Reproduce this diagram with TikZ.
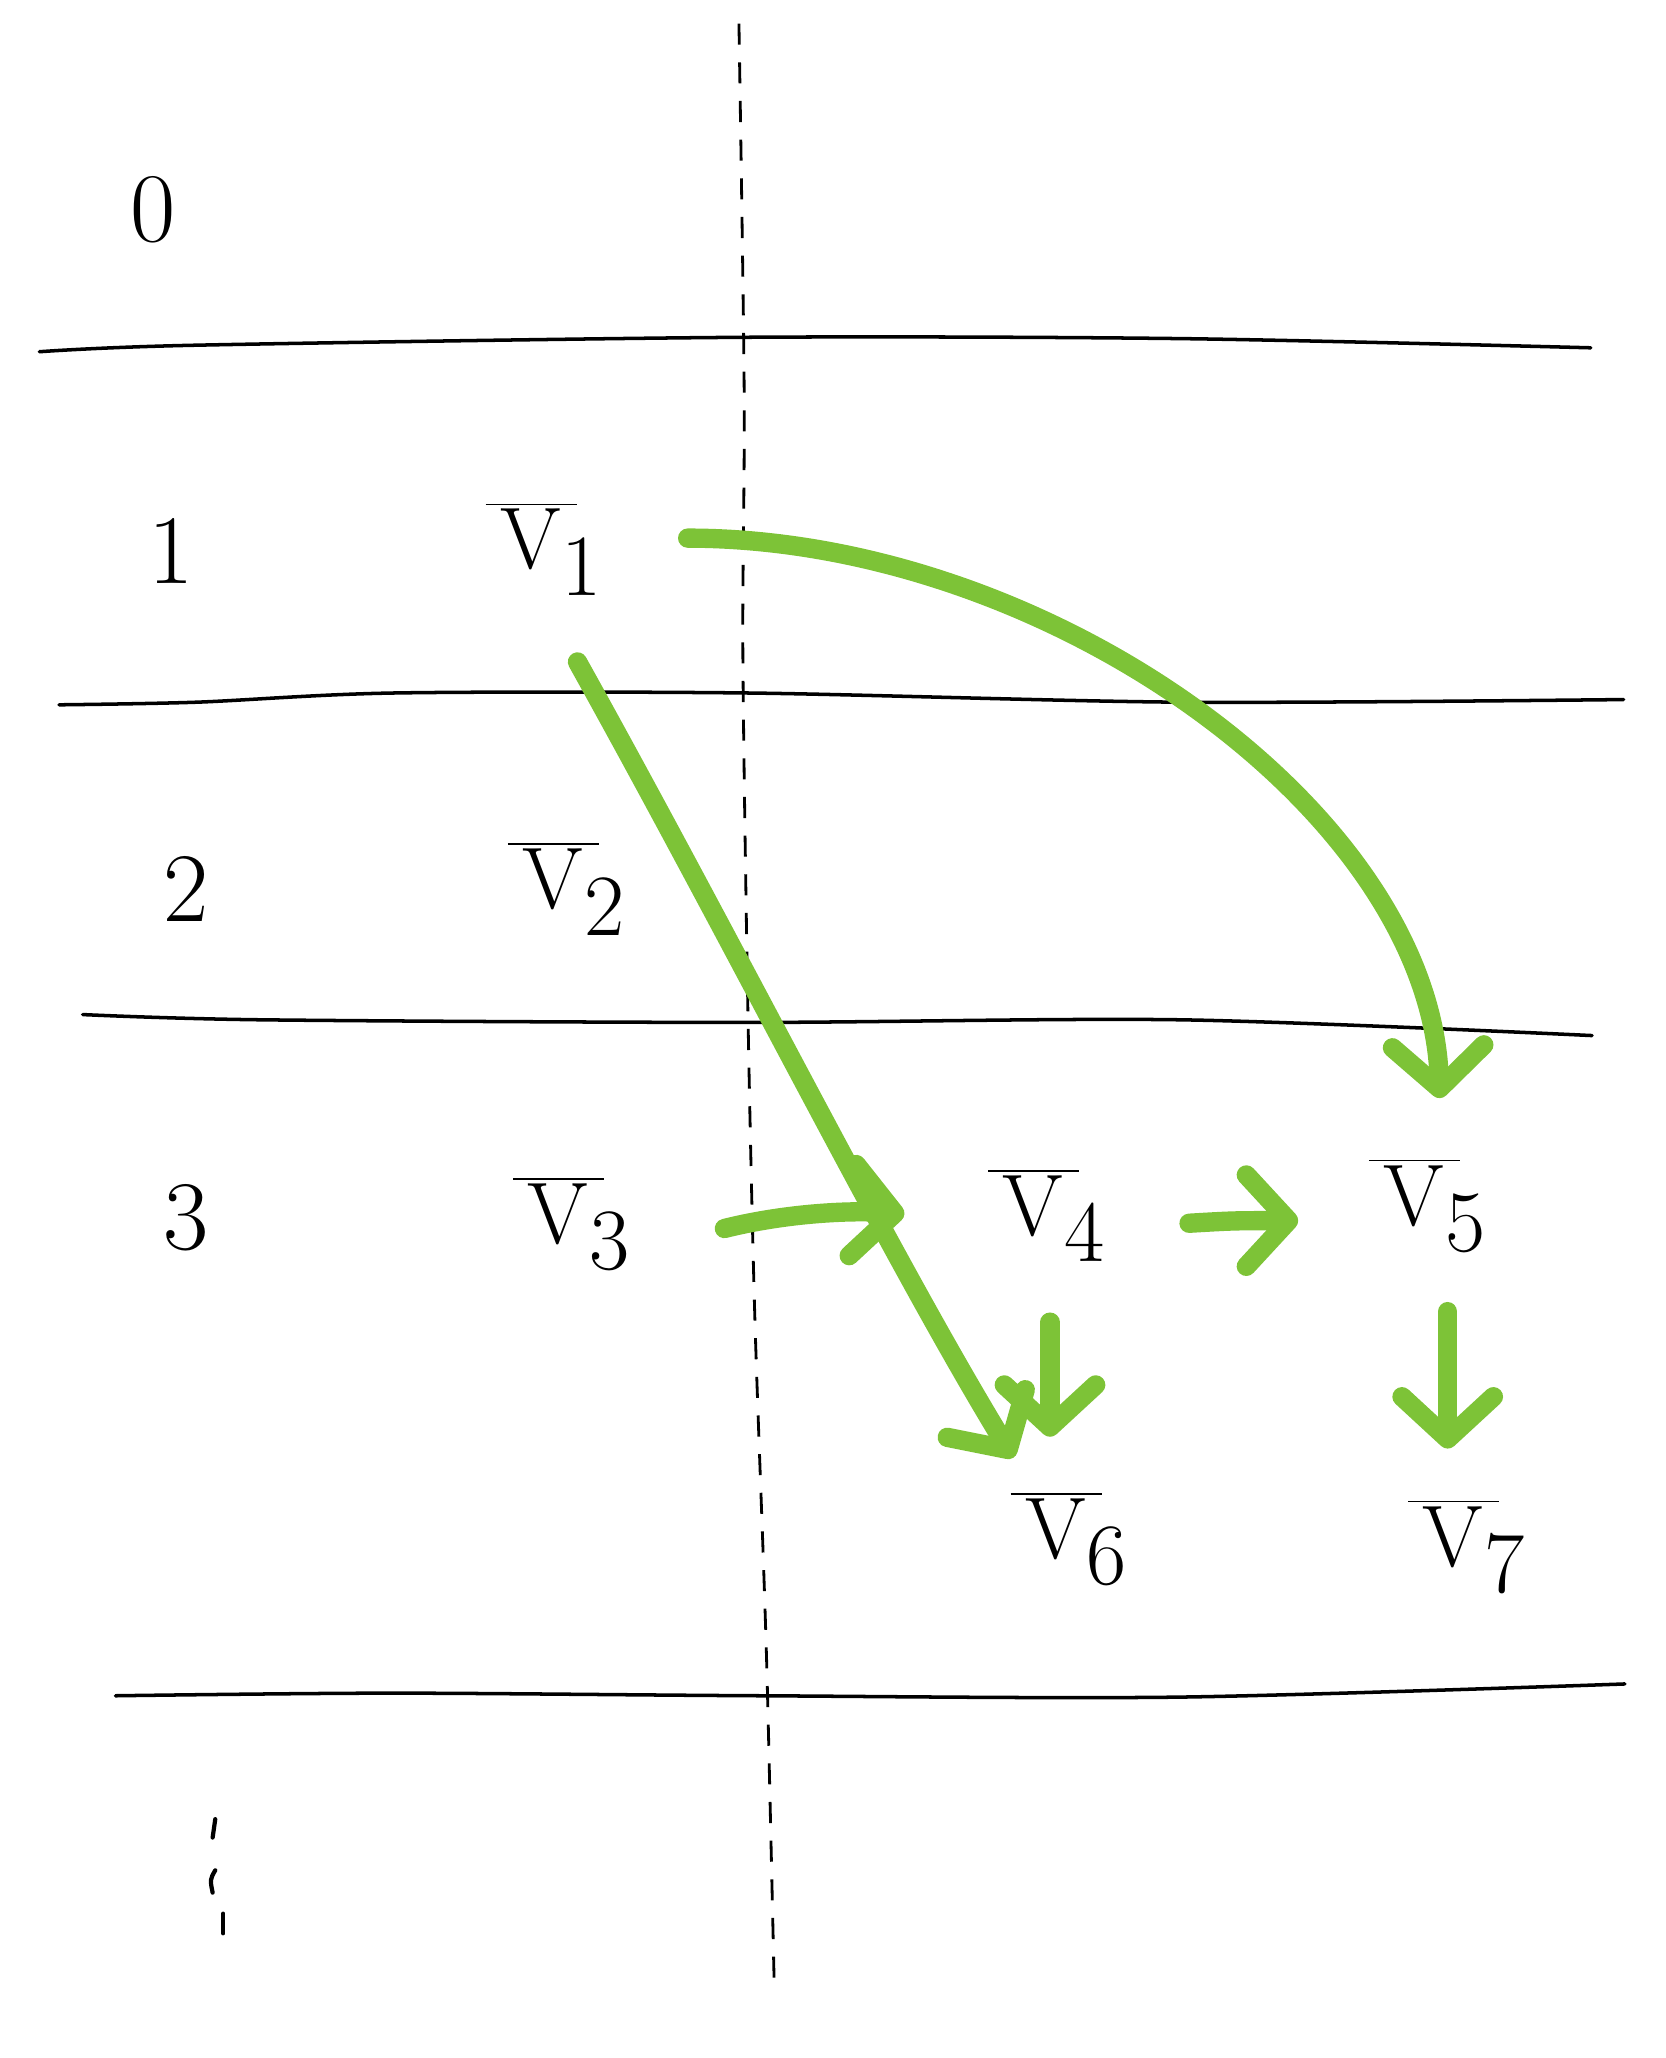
\documentclass[tikz,border=0pt]{standalone}
\usetikzlibrary{arrows.meta,calc}
\definecolor{grn}{RGB}{125,195,55}
\begin{document}
\begin{tikzpicture}[x=0.01312cm,y=-0.01312cm,
  rule/.style={line width=1pt,line cap=round,line join=round},
  sep/.style={line width=0.8pt,dash pattern=on 6pt off 5pt},
  vert/.style={inner sep=2pt,font=\fontsize{34}{40}\selectfont},
  lvl/.style={inner sep=0pt,font=\fontsize{28}{32}\selectfont},
  flow/.style={draw=grn,line width=5.5pt,line cap=round,line join=round,
    -{Straight Barb[length=12pt,width=26pt,round]}}]
\useasboundingbox (0,0) rectangle (1269,1568);
% separating lines
\draw[rule] plot[smooth] coordinates {(30,268) (150,263) (565,257) (900,258) (1212,265)};
\draw[rule] plot[smooth] coordinates {(45,537) (150,535) (300,528) (570,528) (900,535) (1237,533)};
\draw[rule] plot[smooth] coordinates {(63,773) (200,777) (570,779) (900,777) (1213,789)};
\draw[rule] plot[smooth] coordinates {(88,1292) (300,1290) (580,1292) (900,1293) (1238,1283)};
\draw[sep] plot[smooth] coordinates {(563,18) (567,300) (566,500) (570,780) (575,1000) (582,1200) (585,1300) (590,1518)};
% layer labels
\node[lvl] (l0) at (117,160) {0};
\node[lvl] (l1) at (130,420) {1};
\node[lvl] (l2) at (142,677) {2};
\node[lvl] (l3) at (142,928) {3};
% vertical ellipsis
\draw[line width=1.2pt,line cap=round] (164,1386) -- (162,1400);
\draw[line width=1.2pt,line cap=round] (164,1425) .. controls (160,1432) .. (162,1442);
\draw[line width=1.2pt,line cap=round] (170,1458) -- (170,1473);
% vertices
\node[vert] (v1) at (415,418) {$\overline{\,\mathrm{V}\,}_{\!1}$};
\node[vert] (v2) at (432,677) {$\overline{\,\mathrm{V}\,}_{\!2}$};
\node[vert] (v3) at (436,932) {$\overline{\,\mathrm{V}\,}_{\!3}$};
\node[vert] (v4) at (798,926) {$\overline{\,\mathrm{V}\,}_{\!4}$};
\node[vert] (v5) at (1088,918) {$\overline{\,\mathrm{V}\,}_{\!5}$};
\node[vert] (v6) at (815,1172) {$\overline{\,\mathrm{V}\,}_{\!6}$};
\node[vert] (v7) at (1118,1178) {$\overline{\,\mathrm{V}\,}_{\!7}$};
% connectors
\draw[flow] ($(v1.east)+(58,-8)$) .. controls (800,410) and (1090,620) .. ($(v5.north)+(9,-40)$);
\draw[flow] ($(v1.south)+(25,45)$) .. controls (560,720) and (680,960) .. ($(v6.north)+(-43,-20)$);
\draw[flow] ($(v3.east)+(65,4)$) .. controls (600,924) and (650,922) .. ($(v4.west)+(-58,-1)$);
\draw[flow] ($(v4.east)+(57,6)$) .. controls (940,930) .. ($(v5.west)+(-48,12)$);
\draw[flow] ($(v4.south)+(2,40)$) -- ($(v6.north)+(-15,-36)$);
\draw[flow] ($(v5.south)+(15,40)$) -- ($(v7.north)+(-15,-33)$);
\end{tikzpicture}
\end{document}
